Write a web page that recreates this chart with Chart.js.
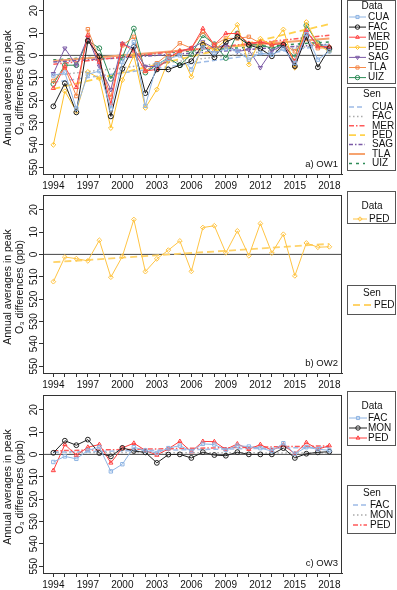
<!DOCTYPE html>
<html>
<head>
<meta charset="utf-8">
<script src="https://cdn.jsdelivr.net/npm/chart.js@4.4.1/dist/chart.umd.min.js"></script>
<style>
    html, body { margin: 0; padding: 0; background: #fff; width: 397px; height: 590px; overflow: hidden; position: relative; }
    .panel { position: absolute; left: 0; width: 397px; height: 200px; }
</style>
</head>
<body>
<div class="panel" style="top:-9px"><canvas id="ow1" width="397" height="200"></canvas></div>
<div class="panel" style="top:190px"><canvas id="ow2" width="397" height="200"></canvas></div>
<div class="panel" style="top:390px"><canvas id="ow3" width="397" height="200"></canvas></div>
<script>
/* ========================================
   Annual averages in peak O3 differences
   ======================================== */

const years = [1994, 1995, 1996, 1997, 1998, 1999, 2000, 2001, 2002, 2003, 2004, 2005, 2006,
               2007, 2008, 2009, 2010, 2011, 2012, 2013, 2014, 2015, 2016, 2017, 2018];
const yTicks = [20, 10, 0, -10, -20, -30, -40, -50];
const yTitle = ['Annual averages in peak', 'O\u2083 differences (ppb)'];

// a) OW1
const ow1CUA = [-9, -7.7, -23.8, -8.5, -7, -23.8, -3, 6, -22.6, -4, -1.5, 0, -6.3, 3.5, 1, 3, 2, -1.9, 1, 0.3, 3, -3.4, 9.5, -1.9, 1.8];
const ow1FAC = [-22.8, -12.5, -25.5, 6.5, -0.4, -27.3, -6, 3.9, -16.9, -6.3, -6.3, -4.4, -2.6, 4.7, -0.9, 6, 8.3, 4.7, 3, -0.4, 4.7, -4.8, 8.3, -5.3, 3.2];
const ow1MER = [-14.7, -5, -14.3, 9, -3, -21.6, 5.2, 2, -7, -6.3, -1.2, 2, 3.2, 12, 4.7, 9.8, 9.8, 5.4, 6, 4.7, 5.4, -2.6, 11, 3.9, 3.9];
const ow1PED = [-40, -16, -25, -7.4, -10.3, -32.5, -11, 0, -23.5, -15.2, -2.3, 2, -9.6, 5.4, 2.5, 6.9, 13.7, -4.1, 7.5, 4.7, 11.6, -5.5, 14.9, 4.7, 1.8];
const ow1SAG = [-8.2, 3.2, -4.5, 8, -4.8, -15.3, 5.3, 3, -5, -5, -2.5, 1.8, 3.2, 6, 3.2, 4.7, 1.8, 2.5, -5.5, 2, 4.5, -5.5, 10.5, 4.7, 2.8];
const ow1TLA = [-11.4, -5.5, -18.2, 11.7, -2, -18.7, 4.5, 8.3, -7, -3.5, 0.6, 5.4, 3.2, 10.5, 4.7, 7.6, 7.6, 8.3, 5.4, 5.4, 5, 1.8, 7.6, 3.2, 3.5];
const ow1UIZ = [-12.8, -4.4, -4.4, 6.6, 3.2, -10.5, -1, 12, -7.7, -4.1, -1.2, -4.4, 0.5, 9, 5, -1.2, 9.8, 4.7, 4.7, 3.2, 4.7, -0.9, 13.4, 5.4, 2.5];
// Sen slope lines: value at 1994 and at 2018
const ow1SenCUA = [-12, 4.7];
const ow1SenFAC = [-9, 5];
const ow1SenMER = [-4, 9];
const ow1SenPED = [-15, 14];
const ow1SenSAG = [-3, 5];
const ow1SenTLA = [-2.5, 7.5];
const ow1SenUIZ = [-2, 6];

// b) OW2
const ow2PED = [-12.2, -1.2, -1.9, -2.9, 6.3, -10.2, -0.9, 15.6, -7.7, -2, 1.9, 6, -7.6, 12, 12.8, 0.7, 10.5, -0.6, 13.8, 0.6, 9, -9.6, 5.1, 3.2, 3.4];
const ow2SenPED = [-3.5, 4.7];

// c) OW3
const ow3FAC = [-3.4, -0.9, -2, 1.8, 3.2, -7.6, -4.4, 3.2, 1.8, 0.6, 2.8, 3.9, 1.5, 4.7, 4.4, 2, 3.9, 3.5, 2.8, 1.5, 5, 0.3, 3.2, 2.3, 1.8];
const ow3MON = [0.7, 6.1, 4.1, 6.6, 0.6, -0.9, 2.9, 1.5, 0.9, -3.8, -0.1, 0, -1.6, 1, -0.3, -0.6, 1, 0, 0, 0, 2.8, -1.6, 0.3, 0.9, 1.2];
const ow3PED = [-7.2, 4.4, -0.4, 3.2, 4.4, -3.8, 2.9, 5, 1.8, -0.3, 2.5, 5.8, 1.2, 5.8, 5.7, 2.2, 4.7, 2.3, 4.4, 1.8, 4.2, 0.3, 5.3, 2.3, 3.9];
const ow3SenFAC = [1.0, 3.2];
const ow3SenMON = [0.9, 0.6];
const ow3SenPED = [1.6, 3.8];

const FONT = "'Liberation Sans', Arial, sans-serif";

function dataSeries(label, values, color, pointStyle, rotation) {
    return {
        label: label,
        group: 'data',
        data: years.map((yr, i) => ({ x: yr, y: values[i] })),
        borderColor: color,
        borderWidth: 1,
        pointStyle: pointStyle,
        pointRotation: rotation || 0,
        pointRadius: 2.4,
        pointBorderWidth: 1,
        pointBorderColor: color,
        pointBackgroundColor: 'rgba(0,0,0,0)',
        tension: 0
    };
}

function senSeries(label, ends, color, dash, width) {
    return {
        label: label,
        group: 'sen',
        data: [{ x: years[0], y: ends[0] }, { x: years[years.length - 1], y: ends[1] }],
        borderColor: color,
        borderWidth: width || 1.5,
        borderDash: dash,
        pointRadius: 0,
        order: 100
    };
}

// draws box, zero line, y labels, axis title, panel tag and the two legends
const panelDecor = {
    id: 'panelDecor',
    beforeDatasetsDraw(chart, args, opts) {
        const ctx = chart.ctx;
        const a = chart.chartArea;
        const y0 = chart.scales.y.getPixelForValue(0);
        ctx.save();
        ctx.strokeStyle = '#444';
        ctx.lineWidth = 1;
        ctx.beginPath();
        ctx.moveTo(a.left, y0);
        ctx.lineTo(a.right, y0);
        ctx.stroke();
        ctx.restore();
    },
    afterDraw(chart, args, opts) {
        const ctx = chart.ctx;
        const a = chart.chartArea;
        const ys = chart.scales.y;
        ctx.save();
        ctx.strokeStyle = '#333';
        ctx.lineWidth = 1;
        ctx.strokeRect(a.left + 0.5, a.top + 0.5, a.right - a.left - 1, a.bottom - a.top);

        ctx.fillStyle = '#111';
        ctx.font = '10px ' + FONT;
        ctx.textAlign = 'center';
        ctx.textBaseline = 'middle';
        yTicks.forEach(v => {
            const py = ys.getPixelForValue(v);
            const txt = v < 0 ? '5' + Math.abs(v) : String(v);
            ctx.save();
            ctx.translate(34, py);
            ctx.rotate(-Math.PI / 2);
            ctx.fillText(txt, 0, 0);
            ctx.restore();
        });

        ctx.font = '10.5px ' + FONT;
        const midY = (a.top + a.bottom) / 2 + 3;
        [8, 20].forEach((px, i) => {
            ctx.save();
            ctx.translate(px, midY);
            ctx.rotate(-Math.PI / 2);
            ctx.fillText(yTitle[i], 0, 0);
            ctx.restore();
        });

        ctx.textAlign = 'right';
        ctx.font = '9.5px ' + FONT;
        ctx.fillText(opts.tag, a.right - 4, a.bottom - 10);

        opts.legends.forEach(lg => drawLegend(chart, lg));
        ctx.restore();
    }
};

function drawLegend(chart, lg) {
    const ctx = chart.ctx;
    ctx.save();
    ctx.strokeStyle = '#555';
    ctx.lineWidth = 1;
    ctx.strokeRect(347.5, lg.top + 0.5, 48, lg.bottom - lg.top);
    ctx.fillStyle = '#111';
    ctx.font = '10px ' + FONT;
    ctx.textAlign = 'center';
    ctx.textBaseline = 'middle';
    ctx.fillText(lg.title, 372, lg.titleY);

    const items = chart.data.datasets.filter(d => d.group === lg.group);
    items.forEach((d, i) => {
        const py = lg.firstY + i * lg.step;
        ctx.save();
        ctx.strokeStyle = d.borderColor;
        ctx.lineWidth = d.borderWidth;
        ctx.setLineDash(d.borderDash || []);
        ctx.beginPath();
        ctx.moveTo(lg.sx0, py);
        ctx.lineTo(lg.sx1, py);
        ctx.stroke();
        ctx.setLineDash([]);
        if (d.group === 'data') {
            ctx.fillStyle = 'rgba(0,0,0,0)';
            ctx.lineWidth = 1;
            Chart.helpers.drawPoint(ctx, {
                pointStyle: d.pointStyle,
                rotation: d.pointRotation,
                radius: 2.2,
                borderWidth: 1
            }, (lg.sx0 + lg.sx1) / 2, py);
        }
        ctx.restore();
        ctx.textAlign = 'left';
        ctx.fillText(d.label, lg.tx, py);
    });
    ctx.restore();
}

function makePanel(id, datasets, tag, legends) {
    const axisGrid = { drawOnChartArea: false, drawTicks: true, tickLength: 4, color: '#333' };
    return new Chart(document.getElementById(id), {
        type: 'line',
        data: { datasets: datasets },
        plugins: [panelDecor],
        options: {
            responsive: false,
            animation: false,
            events: [],
            layout: { padding: { top: 1, right: 55, left: 0, bottom: 0 } },
            plugins: {
                legend: { display: false },
                tooltip: { enabled: false },
                panelDecor: { tag: tag, legends: legends }
            },
            scales: {
                x: {
                    type: 'linear',
                    min: 1993.1,
                    max: 2019.1,
                    afterBuildTicks: s => { s.ticks = years.map(v => ({ value: v })); },
                    afterFit: s => { s.height = 17; },
                    grid: axisGrid,
                    border: { color: '#333' },
                    ticks: {
                        autoSkip: false,
                        maxRotation: 0,
                        minRotation: 0,
                        padding: 2,
                        color: '#111',
                        font: { family: FONT, size: 10 },
                        callback: v => ((v - 1994) % 3 === 0 ? String(v) : '')
                    }
                },
                y: {
                    type: 'linear',
                    min: -53.06,
                    max: 26.56,
                    afterBuildTicks: s => { s.ticks = yTicks.map(v => ({ value: v })); },
                    afterFit: s => { s.width = 43; },
                    grid: axisGrid,
                    border: { color: '#333' },
                    ticks: { display: false }
                }
            }
        }
    });
}

document.addEventListener('DOMContentLoaded', function () {
    makePanel('ow1', [
        dataSeries('CUA', ow1CUA, '#8eb4e3', 'rect'),
        dataSeries('FAC', ow1FAC, '#1a1a1a', 'circle'),
        dataSeries('MER', ow1MER, '#ff4343', 'triangle'),
        dataSeries('PED', ow1PED, '#ffc12b', 'rectRot'),
        dataSeries('SAG', ow1SAG, '#7b5aa6', 'triangle', 180),
        dataSeries('TLA', ow1TLA, '#f58a4b', 'rect'),
        dataSeries('UIZ', ow1UIZ, '#2e8b57', 'circle'),
        senSeries('CUA', ow1SenCUA, '#9dbbe6', [5, 3]),
        senSeries('FAC', ow1SenFAC, '#aaaaaa', [1.5, 2.5]),
        senSeries('MER', ow1SenMER, '#ff5a5a', [5, 2, 1.5, 2]),
        senSeries('PED', ow1SenPED, '#ffd24d', [7, 4], 1.8),
        senSeries('SAG', ow1SenSAG, '#7b5aa6', [4, 2, 1.5, 2]),
        senSeries('TLA', ow1SenTLA, '#f6a36f', [], 2),
        senSeries('UIZ', ow1SenUIZ, '#2e8b57', [3, 4])
    ], 'a) OW1', [
        { group: 'data', title: 'Data', top: 9, bottom: 92, titleY: 15, firstY: 26, step: 10.1, sx0: 349, sx1: 366, tx: 368 },
        { group: 'sen', title: 'Sen', top: 96, bottom: 179, titleY: 103, firstY: 116, step: 9.4, sx0: 349, sx1: 365, tx: 372 }
    ]);

    makePanel('ow2', [
        dataSeries('PED', ow2PED, '#ffc444', 'rectRot'),
        senSeries('PED', ow2SenPED, '#ffd36a', [7, 4], 1.8)
    ], 'b) OW2', [
        { group: 'data', title: 'Data', top: 1, bottom: 33, titleY: 16, firstY: 29, step: 10, sx0: 353, sx1: 367, tx: 369 },
        { group: 'sen', title: 'Sen', top: 95, bottom: 124, titleY: 103, firstY: 115, step: 10, sx0: 353, sx1: 371, tx: 374 }
    ]);

    makePanel('ow3', [
        dataSeries('FAC', ow3FAC, '#8eb4e3', 'rect'),
        dataSeries('MON', ow3MON, '#222222', 'circle'),
        dataSeries('PED', ow3PED, '#ff3d3d', 'triangle'),
        senSeries('FAC', ow3SenFAC, '#9dbbe6', [5, 3]),
        senSeries('MON', ow3SenMON, '#aaaaaa', [1.5, 2.5]),
        senSeries('PED', ow3SenPED, '#ff5a5a', [5, 2, 1.5, 2])
    ], 'c) OW3', [
        { group: 'data', title: 'Data', top: 1, bottom: 55, titleY: 16, firstY: 28, step: 10, sx0: 349, sx1: 367, tx: 368 },
        { group: 'sen', title: 'Sen', top: 95, bottom: 143, titleY: 103, firstY: 115, step: 10, sx0: 353, sx1: 367, tx: 370 }
    ]);
});
</script>
</body>
</html>
